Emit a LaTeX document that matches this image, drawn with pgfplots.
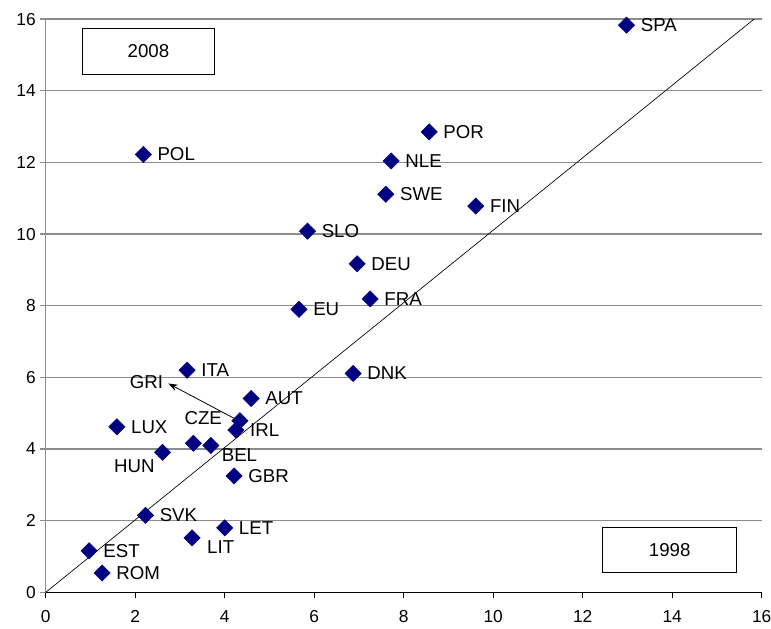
\documentclass[border=0pt]{standalone}
\usepackage{fontspec}
\setmainfont{Liberation Sans}
\usepackage{pgfplots}
\usepackage{pgfplotstable}
\pgfplotsset{compat=1.18}
\usetikzlibrary{arrows.meta,calc}
\definecolor{navy}{HTML}{000080}
\definecolor{gridgray}{HTML}{8C8C8C}

% points with label to the right
\pgfplotstableread{
x y lab
12.98 15.83 SPA
8.57 12.85 POR
7.72 12.04 NLE
7.60 11.11 SWE
9.61 10.78 FIN
5.85 10.08 SLO
6.96 9.17 DEU
7.25 8.19 FRA
5.66 7.90 EU
2.18 12.22 POL
6.87 6.11 DNK
3.16 6.20 ITA
4.59 5.41 AUT
4.25 4.53 IRL
1.59 4.62 LUX
4.21 3.25 GBR
2.23 2.15 SVK
4.00 1.80 LET
0.97 1.16 EST
1.26 0.54 ROM
}\rightlab

% points whose label sits elsewhere
\pgfplotstableread{
x y
4.34 4.79
3.30 4.16
3.69 4.10
2.61 3.91
3.27 1.52
}\otherlab

\begin{document}
\begin{tikzpicture}
\begin{axis}[
    name=ax,
    width=537pt, height=430pt, scale only axis,
    xmin=0, xmax=16, ymin=0, ymax=16,
    xtick={0,2,...,16}, ytick={0,2,...,16},
    axis x line*=bottom, axis y line*=left,
    x axis line style={black,line width=0.7pt,-},
    y axis line style={gridgray,line width=0.9pt,-},
    ymajorgrids, grid style={gridgray,line width=0.9pt},
    tick align=outside, major tick length=4pt,
    xtick style={black,line width=0.7pt},
    ytick style={gridgray,line width=0.9pt},
    ticklabel style={font=\fontsize{13}{15}\selectfont},
    xticklabel style={yshift=-6pt},
    /pgf/number format/assume math mode=true,
    clip=false,
]
\addplot[black, line width=0.5pt, no marks] coordinates {(0,0) (15.83,16)};

\addplot[only marks, mark=square*, mark size=4.3pt,
    mark options={rotate=45, fill=navy, draw=navy},
    nodes near coords, point meta=explicit symbolic,
    nodes near coords style={anchor=west, xshift=10.5pt, inner sep=0pt,
        text=black, font=\fontsize{14}{16}\selectfont}]
    table[x=x, y=y, meta=lab] {\rightlab};

\addplot[only marks, mark=square*, mark size=4.3pt,
    mark options={rotate=45, fill=navy, draw=navy}]
    table[x=x, y=y] {\otherlab};

\begin{scope}[font=\fontsize{14}{16}\selectfont]
\node at (axis cs:3.52,4.86) {CZE};
\node at (axis cs:4.33,3.83) {BEL};
\node at (axis cs:1.98,3.51) {HUN};
\node at (axis cs:2.25,5.88) {GRI};
\node at (axis cs:3.91,1.27) {LIT};
\draw[-{Stealth[length=7pt,width=5pt]}, line width=0.6pt]
    (axis cs:4.28,4.81) -- (axis cs:2.74,5.83);
\draw[black, line width=0.6pt, fill=white]
    (axis cs:0.82,14.46) rectangle (axis cs:3.77,15.74);
\node at (axis cs:2.295,15.1) {2008};
\draw[black, line width=0.6pt, fill=white]
    (axis cs:12.45,0.55) rectangle (axis cs:15.44,1.81);
\node at (axis cs:13.945,1.18) {1998};
\end{scope}
\end{axis}
\pgfresetboundingbox
\path ($(ax.south west)+(-34.3pt,-26.8pt)$) rectangle ($(ax.north east)+(7pt,14.3pt)$);
\end{tikzpicture}
\end{document}
